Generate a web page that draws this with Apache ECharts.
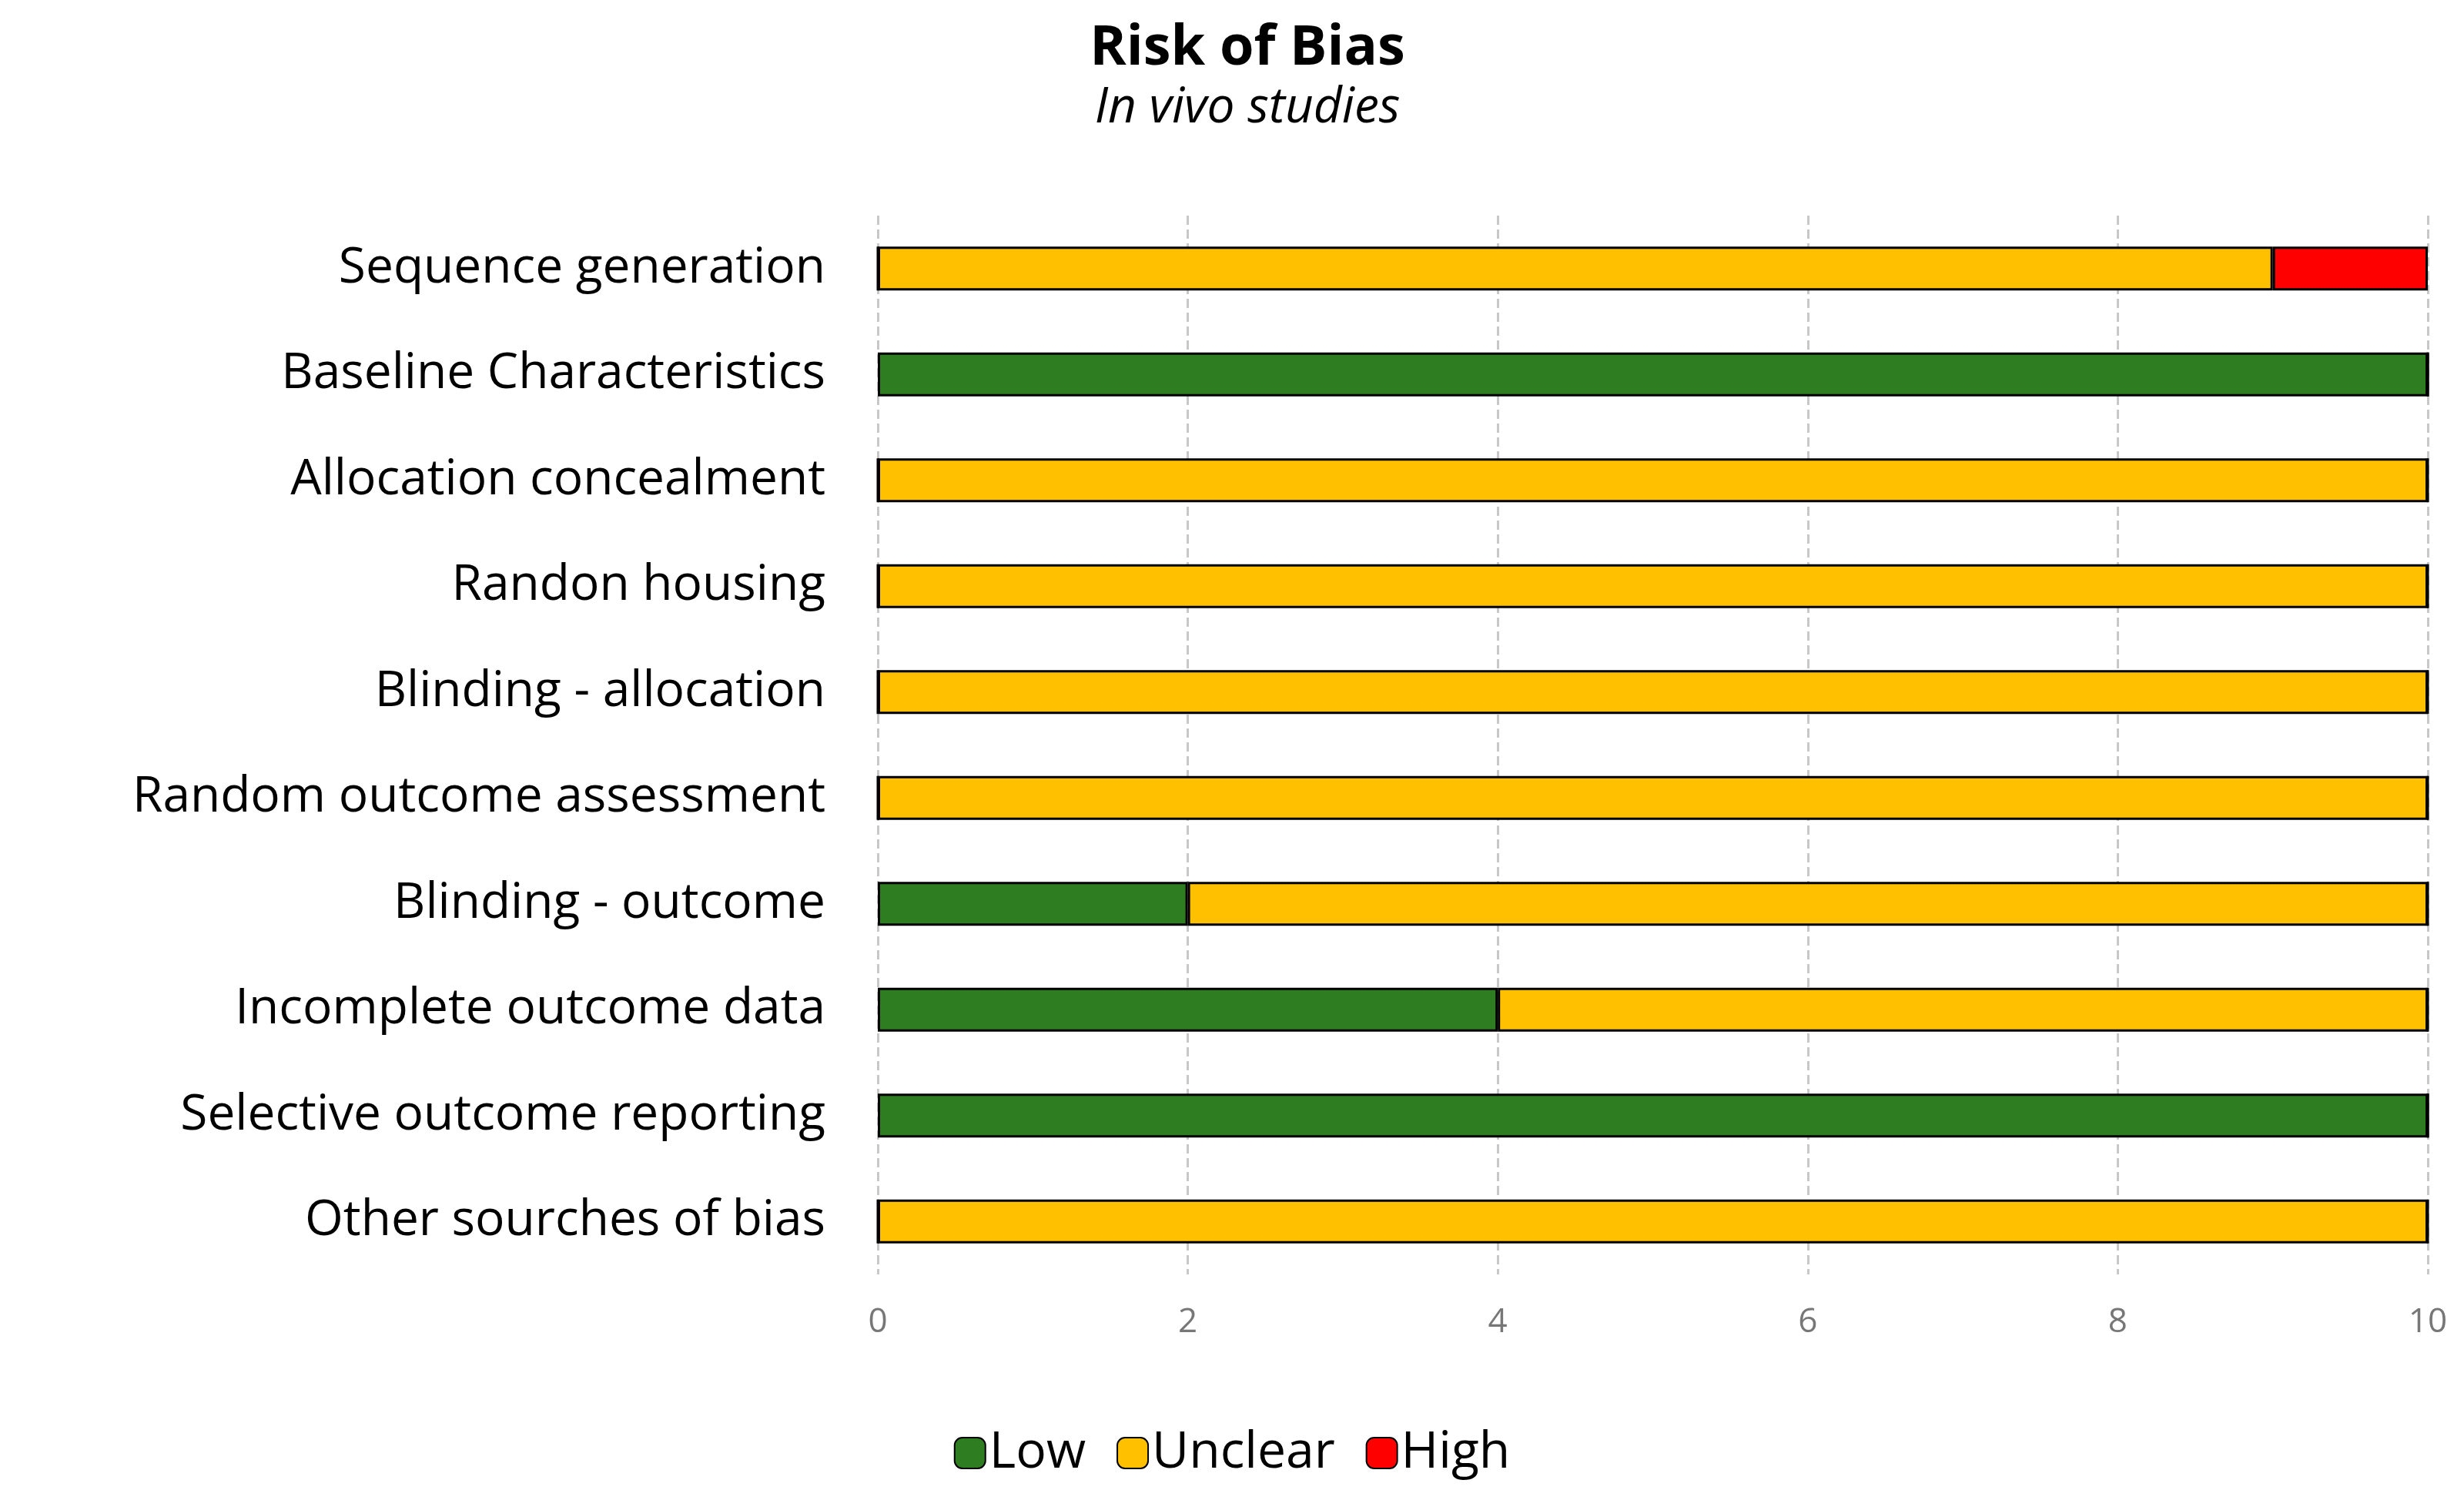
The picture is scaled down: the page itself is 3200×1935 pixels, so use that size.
<!DOCTYPE html>
<html><head><meta charset="utf-8">
<script src="https://cdn.jsdelivr.net/npm/echarts@6/dist/echarts.min.js"></script>
<style>html,body{margin:0;padding:0;background:#fff}#c{width:3200px;height:1935px}</style>
</head><body><div id="c"></div>
<script>
const categories = ["Sequence generation","Baseline Characteristics","Allocation concealment","Randon housing","Blinding - allocation","Random outcome assessment","Blinding - outcome","Incomplete outcome data","Selective outcome reporting","Other sourches of bias"];
const low =     [0,10,0,0,0,0,2,4,10,0];
const unclear = [9,0,10,10,10,10,8,6,0,10];
const high =    [1,0,0,0,0,0,0,0,0,0];
const xTicks = [0,2,4,6,8,10];
const font = "Open Sans";
const mk = (name, data, color) => ({
  name, type: "bar", stack: "s", data, barWidth: 57,
  itemStyle: { color, borderColor: "#000", borderWidth: 3 },
  emphasis: { disabled: true }
});
const chart = echarts.init(document.getElementById("c"));
chart.setOption({
  animation: false,
  title: {
    text: "Risk of Bias", subtext: "In vivo studies", left: 1615, top: 22, textAlign: "center",
    textStyle: { fontFamily: font, fontSize: 72, fontWeight: "bold", color: "#000" },
    subtextStyle: { fontFamily: font, fontSize: 64, fontStyle: "italic", color: "#000" },
    itemGap: 10
  },
  legend: {
    bottom: 10, left: "center", itemWidth: 40, itemHeight: 40, itemGap: 40,
    textStyle: { fontFamily: font, fontSize: 66, color: "#000" },
    data: ["Low","Unclear","High"]
  },
  grid: { left: 1140, right: 47, top: 280, bottom: 280 },
  xAxis: {
    type: "value", min: 0, max: 10, interval: 2,
    axisLine: { show: false }, axisTick: { show: false },
    splitLine: { lineStyle: { color: "#c8c8c8", type: "dashed", width: 3 } },
    axisLabel: { fontFamily: font, fontSize: 44, color: "#777", margin: 40,
      formatter: v => xTicks.includes(v) ? String(v) : "" }
  },
  yAxis: {
    type: "category", inverse: true, data: categories,
    axisLine: { show: false }, axisTick: { show: false },
    axisLabel: { fontFamily: font, fontSize: 64, color: "#000", margin: 68 }
  },
  series: [mk("Low", low, "#2E7D20"), mk("Unclear", unclear, "#FFC000"), mk("High", high, "#FF0000")]
});
</script></body></html>
